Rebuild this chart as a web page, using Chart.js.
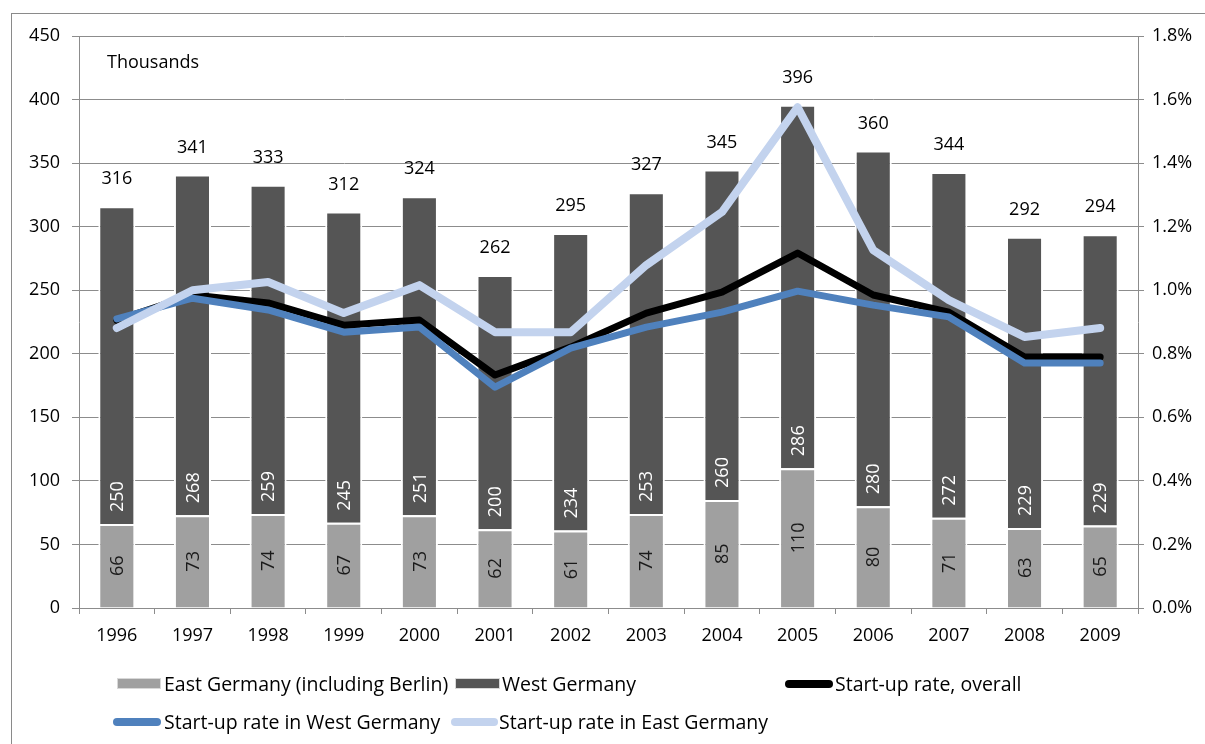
<!DOCTYPE html>
<html>
<head>
<meta charset="utf-8">
<script src="https://cdn.jsdelivr.net/npm/chart.js@4/dist/chart.umd.min.js"></script>
<style>
  html, body { margin: 0; padding: 0; background: #fff; }
  #wrap { position: relative; width: 1205px; height: 744px; overflow: hidden; font-family: "Open Sans", sans-serif; }
  #frame { position: absolute; left: 11px; top: 13px; width: 1300px; height: 900px; border-left: 1px solid #8a8a8a; border-top: 1px solid #8a8a8a; }
  canvas { position: absolute; left: 0; top: 0; }
  .txt { position: absolute; font-size: 19.5px; color: #000; white-space: nowrap; line-height: 22px; }
  .sw { position: absolute; }
  .box { height: 9px; border: 1px solid #d8d8d8; }
  .ln { height: 8px; border-radius: 4px; }
</style>
</head>
<body>
<div id="wrap">
  <div id="frame"></div>
  <canvas id="c" width="1205" height="744"></canvas>
  <div class="txt" style="left:107px; top:50px; font-size:18px;">Thousands</div>

  <div class="sw box" style="left:117px; top:678px; width:42px; background:#a0a0a0;"></div>
  <div class="txt" style="left:164px; top:673px;">East Germany (including Berlin)</div>
  <div class="sw box" style="left:455px; top:678px; width:43px; background:#555555;"></div>
  <div class="txt" style="left:502px; top:673px;">West Germany</div>
  <div class="sw ln" style="left:785px; top:680px; width:48px; background:#000000;"></div>
  <div class="txt" style="left:835px; top:673px;">Start-up rate, overall</div>

  <div class="sw ln" style="left:113px; top:718px; width:48px; background:#4f81bd;"></div>
  <div class="txt" style="left:164px; top:711px;">Start-up rate in West Germany</div>
  <div class="sw ln" style="left:451px; top:718px; width:47px; background:#c3d3ee;"></div>
  <div class="txt" style="left:499px; top:711px;">Start-up rate in East Germany</div>
</div>
<script>
const years = ['1996','1997','1998','1999','2000','2001','2002','2003','2004','2005','2006','2007','2008','2009'];
const eastStartups = [66, 73, 74, 67, 73, 62, 61, 74, 85, 110, 80, 71, 63, 65];
const westStartups = [250, 268, 259, 245, 251, 200, 234, 253, 260, 286, 280, 272, 229, 229];
const totalStartups = [316, 341, 333, 312, 324, 262, 295, 327, 345, 396, 360, 344, 292, 294];
const rateOverall = [0.905, 0.985, 0.96, 0.89, 0.906, 0.733, 0.821, 0.928, 0.994, 1.117, 0.985, 0.931, 0.79, 0.79];
const rateWest = [0.91, 0.975, 0.938, 0.868, 0.884, 0.695, 0.818, 0.884, 0.931, 0.997, 0.953, 0.916, 0.771, 0.771];
const rateEast = [0.881, 1.0, 1.026, 0.928, 1.016, 0.868, 0.868, 1.079, 1.246, 1.576, 1.126, 0.969, 0.853, 0.881];
const leftTicks = [0, 50, 100, 150, 200, 250, 300, 350, 400, 450];
const rightTicks = [0, 0.2, 0.4, 0.6, 0.8, 1.0, 1.2, 1.4, 1.6, 1.8];

const FONT = { family: "'Open Sans', sans-serif", size: 18 };
const GRID = '#8c8c8c';

const labelPlugin = {
  id: 'barLabels',
  afterDatasetsDraw(chart) {
    const ctx = chart.ctx;
    const eastMeta = chart.getDatasetMeta(0);
    const westMeta = chart.getDatasetMeta(1);
    ctx.save();
    ctx.font = "18px 'Open Sans', sans-serif";
    eastMeta.data.forEach((el, i) => {
      const p = el.getProps(['x', 'y', 'base'], true);
      ctx.save();
      ctx.translate(p.x, (p.y + p.base) / 2);
      ctx.rotate(-Math.PI / 2);
      ctx.fillStyle = '#1a1a1a';
      ctx.textAlign = 'center';
      ctx.textBaseline = 'middle';
      ctx.fillText(String(eastStartups[i]), 0, 1);
      ctx.restore();
    });
    westMeta.data.forEach((el, i) => {
      const p = el.getProps(['x', 'y', 'base'], true);
      ctx.save();
      ctx.translate(p.x, p.base - 12);
      ctx.rotate(-Math.PI / 2);
      ctx.fillStyle = '#ffffff';
      ctx.textAlign = 'left';
      ctx.textBaseline = 'middle';
      ctx.fillText(String(westStartups[i]), 0, 1);
      ctx.restore();
      ctx.fillStyle = '#000000';
      ctx.textAlign = 'center';
      ctx.textBaseline = 'middle';
      ctx.fillText(String(totalStartups[i]), p.x, p.y - 27);
    });
    ctx.restore();
  }
};

new Chart(document.getElementById('c'), {
  type: 'bar',
  data: {
    labels: years,
    datasets: [
      { label: 'East Germany (including Berlin)', data: eastStartups, backgroundColor: '#a0a0a0',
        borderColor: '#ffffff', borderWidth: 2, yAxisID: 'y', order: 10, stack: 's',
        barPercentage: 0.49, categoryPercentage: 1.0 },
      { label: 'West Germany', data: westStartups, backgroundColor: '#555555',
        borderColor: '#ffffff', borderWidth: 2, yAxisID: 'y', order: 10, stack: 's',
        barPercentage: 0.49, categoryPercentage: 1.0 },
      { type: 'line', label: 'Start-up rate, overall', data: rateOverall, borderColor: '#000000',
        borderWidth: 7, pointRadius: 0, yAxisID: 'y1', order: 3, tension: 0,
        borderCapStyle: 'round', borderJoinStyle: 'round' },
      { type: 'line', label: 'Start-up rate in West Germany', data: rateWest, borderColor: '#4f81bd',
        borderWidth: 7, pointRadius: 0, yAxisID: 'y1', order: 2, tension: 0,
        borderCapStyle: 'round', borderJoinStyle: 'round' },
      { type: 'line', label: 'Start-up rate in East Germany', data: rateEast, borderColor: '#c3d3ee',
        borderWidth: 8, pointRadius: 0, yAxisID: 'y1', order: 1, tension: 0,
        borderCapStyle: 'round', borderJoinStyle: 'round' }
    ]
  },
  options: {
    responsive: false,
    animation: false,
    layout: { padding: { top: 36, left: 0, right: 0, bottom: 0 } },
    plugins: { legend: { display: false }, tooltip: { enabled: false } },
    scales: {
      x: {
        stacked: true,
        grid: { offset: true, drawOnChartArea: false, drawTicks: true, tickLength: 6, color: GRID },
        border: { color: GRID, width: 1 },
        ticks: { font: FONT, color: '#000', padding: 11, maxRotation: 0 },
        afterFit(s) { s.height = 136; }
      },
      y: {
        stacked: true, position: 'left', min: 0, max: 450,
        afterBuildTicks(s) { s.ticks = leftTicks.map(v => ({ value: v })); },
        grid: { color: GRID, lineWidth: 1, tickLength: 7 },
        border: { color: GRID, width: 1 },
        ticks: { font: FONT, color: '#000', padding: 12 },
        afterFit(s) { s.width = 79; }
      },
      y1: {
        position: 'right', min: 0, max: 1.8,
        afterBuildTicks(s) { s.ticks = rightTicks.map(v => ({ value: v })); },
        grid: { drawOnChartArea: false, color: GRID, tickLength: 6 },
        border: { color: GRID, width: 1 },
        ticks: { font: FONT, color: '#000', padding: 8, callback: v => v.toFixed(1) + '%' },
        afterFit(s) { s.width = 67; }
      }
    }
  },
  plugins: [labelPlugin]
});
</script>
</body>
</html>
